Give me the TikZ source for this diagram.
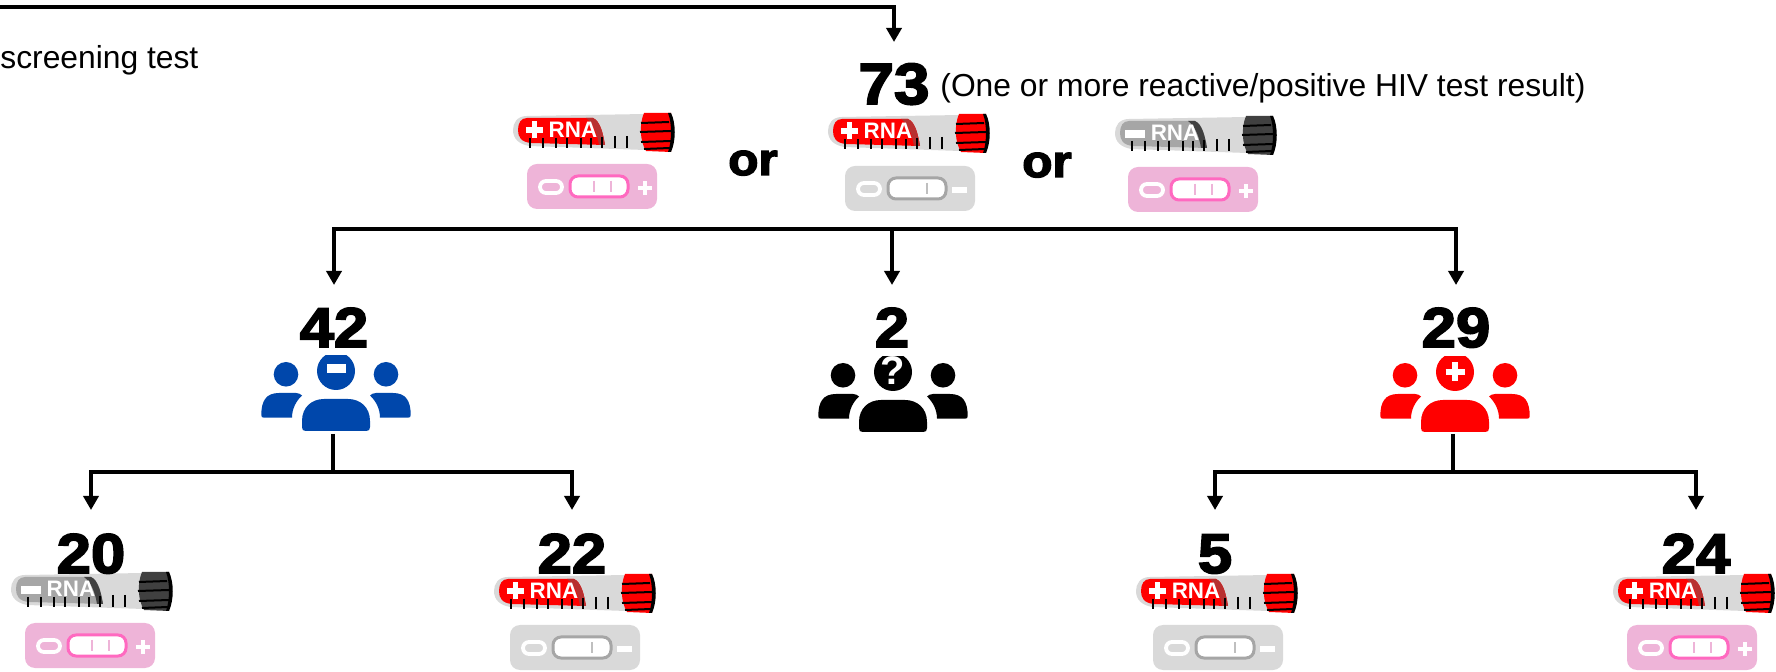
\documentclass[tikz,border=0pt]{standalone}
\usepackage{fontspec}
\setmainfont{Liberation Sans}
\newfontfamily\blk[FakeBold=3.2,FakeStretch=1.1]{Liberation Sans Bold}
\usetikzlibrary{arrows.meta}
\definecolor{cardpink}{HTML}{EEB4D8}
\definecolor{hotp}{HTML}{FF69C0}
\definecolor{cardgray}{HTML}{D9D9D9}
\definecolor{strokegray}{HTML}{A6A6A6}
\definecolor{linegray}{HTML}{BFBFBF}
\definecolor{tubegray}{HTML}{D9D9D9}
\definecolor{negbody}{HTML}{A6A6A6}
\definecolor{negcap}{HTML}{404040}
\definecolor{negshade}{HTML}{404040}
\definecolor{posshade}{HTML}{B83030}
\definecolor{blueppl}{HTML}{0047AB}
\tikzset{
  conn/.style={line width=1.75pt,draw=black},
  arr/.style={conn,-{Triangle[length=7pt,width=7.5pt]}},
  num/.style={inner sep=0pt,anchor=base,font=\blk\fontsize{28}{30}\selectfont},
  bignum/.style={inner sep=0pt,anchor=base,font=\blk\fontsize{29}{31}\selectfont},
  ortxt/.style={inner sep=0pt,anchor=base,font=\blk\fontsize{22.5}{24}\selectfont},
  txt/.style={inner sep=0pt,anchor=base west,font=\fontsize{15.9}{18}\selectfont},
  tick/.style={line width=0.8pt,draw=black},
}
% #1,#2 position; #3 body, #4 shade, #5 cap, #6 symbol
\newcommand\tubeicon[6]{%
\begin{scope}[shift={(#1,#2)}]
  \fill[tubegray] (132,1) -- (14,3) .. controls (4,3) and (0,10) .. (0,17) .. controls (0,26) and (6,31) .. (16,33) -- (132,37) -- cycle;
  \fill[#3] (14,5) -- (80,5) .. controls (87,8) and (90,20) .. (92,32) -- (18,30) .. controls (8,29) and (5,24) .. (5,17) .. controls (5,10) and (8,5) .. (14,5) -- cycle;
  \fill[#4] (73,5) -- (80,5) .. controls (87,8) and (90,20) .. (92,32) -- (86,32) .. controls (84,20) and (80,10) .. (73,5) -- cycle;
  \foreach \tx/\ty in {17/25,30/25,43/25,54/25,68/25,78/25,89/24,102/23,114/23}
    \draw[tick] (\tx,\ty) -- (\tx,35);
  \fill[#5] (131,0) -- (158,0) -- (158,39) -- (133,38) .. controls (127,28) and (126,12) .. (131,0) -- cycle;
  \fill[black] (155,0) -- (158,0) .. controls (163,10) and (163,28) .. (158,39) -- (155,39) .. controls (159,28) and (159,10) .. (155,0) -- cycle;
  \draw[tick,line width=1pt] (128,10) -- (156,9);
  \draw[tick,line width=1pt] (127,19) -- (158,18);
  \draw[tick,line width=1pt] (128,29) -- (158,28);
  \draw[tick,line width=1pt] (131,36) -- (157,35);
  #6
  \node[inner sep=0pt,text=white,font=\bfseries\fontsize{11.2}{12}\selectfont] at (60,17) {RNA};
\end{scope}}
\newcommand\tplus{\draw[white,line width=2.6pt] (13,17)--(30,17) (21.5,8.5)--(21.5,25.5);}
\newcommand\tminus{\fill[white] (10,14) rectangle (30,22);}
% card: #1,#2 position; #3 bg, #4 stroke, #5 extras
\newcommand\cardicon[5]{%
\begin{scope}[shift={(#1,#2)}]
  \fill[#3,rounded corners=5pt] (0,0) rectangle (130,45);
  \draw[white,fill=#3,line width=1.9pt,rounded corners=3pt] (13,17) rectangle (35,29);
  \draw[#4,fill=white,line width=1.5pt,rounded corners=4pt] (43,12) rectangle (101,33);
  #5
\end{scope}}
\newcommand\cpos{\draw[cardpink,line width=1pt] (67,17)--(67,28) (84,17)--(84,28);\draw[white,line width=2.2pt] (111,24)--(125,24) (118,17)--(118,31);}
\newcommand\cneg{\draw[linegray,line width=1pt] (82,17)--(82,28);\fill[white] (107,21) rectangle (122,27);}
% people: #1,#2 centre of middle head; #3 colour; #4 symbol
\newcommand\peopleicon[4]{%
\begin{scope}[shift={(#1,#2)}]
  \begin{scope}
    \clip (-25,-15.5) rectangle (25,25);
    \fill[#3] (0,0) circle[radius=9.5pt];
  \end{scope}
  \fill[#3] (-50,3.3) circle[radius=6.15pt];
  \fill[#3] (50,3.3) circle[radius=6.15pt];
  \fill[#3] (-74.7,44) .. controls (-74.7,30) and (-70,22) .. (-57,22) -- (-40,22) .. controls (-38,22) and (-35,23) .. (-34,24.5) .. controls (-40,30) and (-44,38) .. (-44,46.7) -- (-72,46.7) .. controls (-74,46.7) and (-74.7,46) .. (-74.7,44) -- cycle;
  \fill[#3] (74.7,44) .. controls (74.7,30) and (70,22) .. (57,22) -- (40,22) .. controls (38,22) and (35,23) .. (34,24.5) .. controls (40,30) and (44,38) .. (44,46.7) -- (72,46.7) .. controls (74,46.7) and (74.7,46) .. (74.7,44) -- cycle;
  \fill[#3] (-34,56) -- (-34,50) .. controls (-34,36) and (-24,28) .. (-12,28) -- (12,28) .. controls (24,28) and (34,36) .. (34,50) -- (34,56) .. controls (34,59) and (33,60) .. (30,60) -- (-30,60) .. controls (-33,60) and (-34,59) .. (-34,56) -- cycle;
  #4
\end{scope}}
\begin{document}
\begin{tikzpicture}[x=0.5pt,y=-0.5pt]
\useasboundingbox (0,0) rectangle (1776,672);
% top
\coordinate (start) at (0,7);
\coordinate (topcorner) at (894,7);
\coordinate (in73) at (894,42);
\draw[arr] (start) -- (topcorner) -- (in73);
\node[txt] (screen) at (0,69) {screening test};
\node[bignum] (n73) at (894,104) {73};
\node[txt] (desc) at (940,97) {(One or more reactive/positive HIV test result)};
\node[ortxt] (or1) at (753,175) {or};
\node[ortxt] (or2) at (1047,177) {or};
% row 1 icons
\tubeicon{513}{113}{red}{posshade}{red}{\tplus}
\cardicon{527}{164}{cardpink}{hotp}{\cpos}
\tubeicon{828}{114}{red}{posshade}{red}{\tplus}
\cardicon{845}{166}{cardgray}{strokegray}{\cneg}
\tubeicon{1115}{116}{negbody}{negshade}{negcap}{\tminus}
\cardicon{1128}{167}{cardpink}{hotp}{\cpos}
% split
\coordinate (bL) at (334,229);
\coordinate (bM) at (892,229);
\coordinate (bR) at (1456,229);
\coordinate (in42) at (334,285);
\coordinate (in2) at (892,285);
\coordinate (in29) at (1456,285);
\draw[conn,line cap=rect] (bL) -- (bR);
\draw[arr] (bL) -- (in42);
\draw[arr] (bM) -- (in2);
\draw[arr] (bR) -- (in29);
\node[num] (n42) at (334,347) {42};
\node[num] (n2) at (892,347) {2};
\node[num] (n29) at (1456,347) {29};
\peopleicon{336}{371}{blueppl}{\fill[white] (-9.5,-6.5) rectangle (9.5,2.5);}
\peopleicon{893}{372}{black}{\node[inner sep=0pt,text=white,font=\bfseries\fontsize{20}{20}\selectfont] (q) at (0,-1) {?};}
\peopleicon{1455}{372}{red}{\draw[white,line width=2.8pt] (-9.5,0)--(9.5,0) (0,-9.5)--(0,9.5);}
% lower branches
\coordinate (p42) at (333,434);
\coordinate (j42) at (333,472);
\coordinate (l20) at (91,472);
\coordinate (l22) at (572,472);
\coordinate (in20) at (91,510);
\coordinate (in22) at (572,510);
\draw[conn] (p42) -- (j42);
\draw[conn,line cap=rect] (l20) -- (l22);
\draw[arr] (l20) -- (in20);
\draw[arr] (l22) -- (in22);
\coordinate (p29) at (1453,434);
\coordinate (j29) at (1453,472);
\coordinate (l5) at (1215,472);
\coordinate (l24) at (1696,472);
\coordinate (in5) at (1215,510);
\coordinate (in24) at (1696,510);
\draw[conn] (p29) -- (j29);
\draw[conn,line cap=rect] (l5) -- (l24);
\draw[arr] (l5) -- (in5);
\draw[arr] (l24) -- (in24);
% row 3 icons
\tubeicon{11}{572}{negbody}{negshade}{negcap}{\tminus}
\cardicon{25}{623}{cardpink}{hotp}{\cpos}
\tubeicon{494}{574}{red}{posshade}{red}{\tplus}
\cardicon{510}{625}{cardgray}{strokegray}{\cneg}
\tubeicon{1136}{574}{red}{posshade}{red}{\tplus}
\cardicon{1153}{625}{cardgray}{strokegray}{\cneg}
\tubeicon{1613}{574}{red}{posshade}{red}{\tplus}
\cardicon{1627}{625}{cardpink}{hotp}{\cpos}
\node[num] (n20) at (91,573) {20};
\node[num] (n22) at (572,573) {22};
\node[num] (n5) at (1215,573) {5};
\node[num] (n24) at (1696,573) {24};
\end{tikzpicture}
\end{document}
